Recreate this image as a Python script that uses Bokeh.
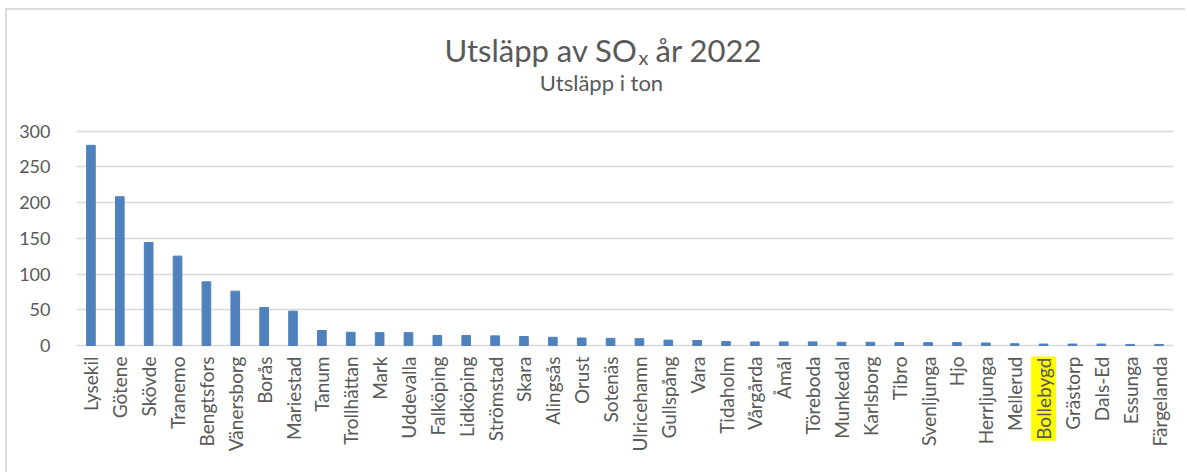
import math
from bokeh.plotting import figure
from bokeh.models import FactorRange, Range1d
from bokeh.embed import file_html
from bokeh.resources import INLINE
from bokeh.core.properties import value

# ---- data ----
municipalities = [
    "Lysekil", "Götene", "Skövde", "Tranemo", "Bengtsfors", "Vänersborg", "Borås",
    "Mariestad", "Tanum", "Trollhättan", "Mark", "Uddevalla", "Falköping", "Lidköping",
    "Strömstad", "Skara", "Alingsås", "Orust", "Sotenäs", "Ulricehamn", "Gullspång",
    "Vara", "Tidaholm", "Vårgårda", "Åmål", "Töreboda", "Munkedal", "Karlsborg",
    "Tibro", "Svenljunga", "Hjo", "Herrljunga", "Mellerud", "Bollebygd", "Grästorp",
    "Dals-Ed", "Essunga", "Färgelanda",
]
sox_tonnes = [
    280, 208, 144, 125, 89, 76, 53,
    48, 21, 18.5, 18, 18, 14, 14,
    13.5, 12.5, 11.5, 10.5, 10, 9.5, 7.5,
    7, 5.5, 5, 5, 5, 4.5, 4.5,
    4, 4, 4, 3.5, 2.5, 2, 2,
    2, 1.5, 1.5,
]
y_ticks = [0, 50, 100, 150, 200, 250, 300]
title_main = "Utsläpp av SO"
title_subscript = "x"
title_end = "år 2022"
subtitle = "Utsläpp i ton"
highlighted = "Bollebygd"

# ---- layout constants (pixels) ----
FONT = "Lato"
TEXT = "#595959"
BAR = "#4f81bd"
GRID = "#d9d9d9"

FIG_W, FIG_H = 1180, 464
ORIGIN_X, ORIGIN_Y = 7, 10          # page position of the canvas
FRAME_LEFT, FRAME_RIGHT_PAD = 69, 14
Y_MAX = y_ticks[-1]
ZERO_PX = 335.0                      # canvas y of value 0
TOP_PX = 120.5                       # canvas y of value Y_MAX
PPU = (ZERO_PX - TOP_PX) / Y_MAX     # pixels per ton
PX_PER_FACTOR = (FIG_W - FRAME_LEFT - FRAME_RIGHT_PAD) / len(municipalities)


def ydata(page_y):
    return (ZERO_PX - (page_y - ORIGIN_Y)) / PPU


def xdata(page_x):
    return (page_x - ORIGIN_X - FRAME_LEFT) / PX_PER_FACTOR


p = figure(
    width=FIG_W, height=FIG_H,
    x_range=FactorRange(factors=municipalities, range_padding=0),
    y_range=Range1d(-(FIG_H - ZERO_PX) / PPU, Y_MAX + TOP_PX / PPU),
    output_backend="svg", toolbar_location=None,
    min_border_left=FRAME_LEFT, min_border_right=FRAME_RIGHT_PAD,
    min_border_top=0, min_border_bottom=0,
)
p.styles = {"margin-left": "5px", "margin-top": "8px",
            "border-left": "2px solid #dcdcdc", "border-top": "2px solid #dcdcdc"}
p.outline_line_color = None
p.xaxis.visible = False

p.vbar(x=municipalities, top=sox_tonnes, width=0.3, color=BAR)

p.xgrid.visible = False
p.ygrid.ticker = y_ticks
p.ygrid.grid_line_color = GRID
p.ygrid.grid_line_width = 1.5

p.yaxis.ticker = y_ticks
p.yaxis.axis_line_color = None
p.yaxis.major_tick_line_color = None
p.yaxis.minor_tick_line_color = None
p.yaxis.major_label_standoff = 20
p.yaxis.major_label_text_font = FONT
p.yaxis.major_label_text_font_size = "18px"
p.yaxis.major_label_text_color = TEXT

# category labels, rotated, below the zero line
label_y = -11 / PPU
others = [m for m in municipalities if m != highlighted]
p.text(x=others, y=[label_y] * len(others), text=others, angle=math.pi / 2,
       text_align="right", text_baseline="middle",
       text_font=value(FONT), text_font_size="19px", text_color=TEXT)
p.text(x=[highlighted], y=[label_y], text=[highlighted], angle=math.pi / 2,
       text_align="right", text_baseline="middle",
       text_font=value(FONT), text_font_size="19px", text_color=TEXT,
       background_fill_color="#ffff00", padding=1)

# title with subscript, and subtitle
p.text(x=[xdata(637)], y=[ydata(49)], text=[title_main], text_align="right",
       text_baseline="alphabetic", text_font=value(FONT), text_font_size="31px",
       text_color=TEXT)
p.text(x=[xdata(638)], y=[ydata(56)], text=[title_subscript], text_align="left",
       text_baseline="alphabetic", text_font=value(FONT), text_font_size="20px",
       text_color=TEXT)
p.text(x=[xdata(655)], y=[ydata(49)], text=[title_end], text_align="left",
       text_baseline="alphabetic", text_font=value(FONT), text_font_size="31px",
       text_color=TEXT)
p.text(x=[xdata(601)], y=[ydata(82)], text=[subtitle], text_align="center",
       text_baseline="alphabetic", text_font=value(FONT), text_font_size="22px",
       text_color=TEXT)

open("out.html", "w").write(file_html(p, INLINE))
